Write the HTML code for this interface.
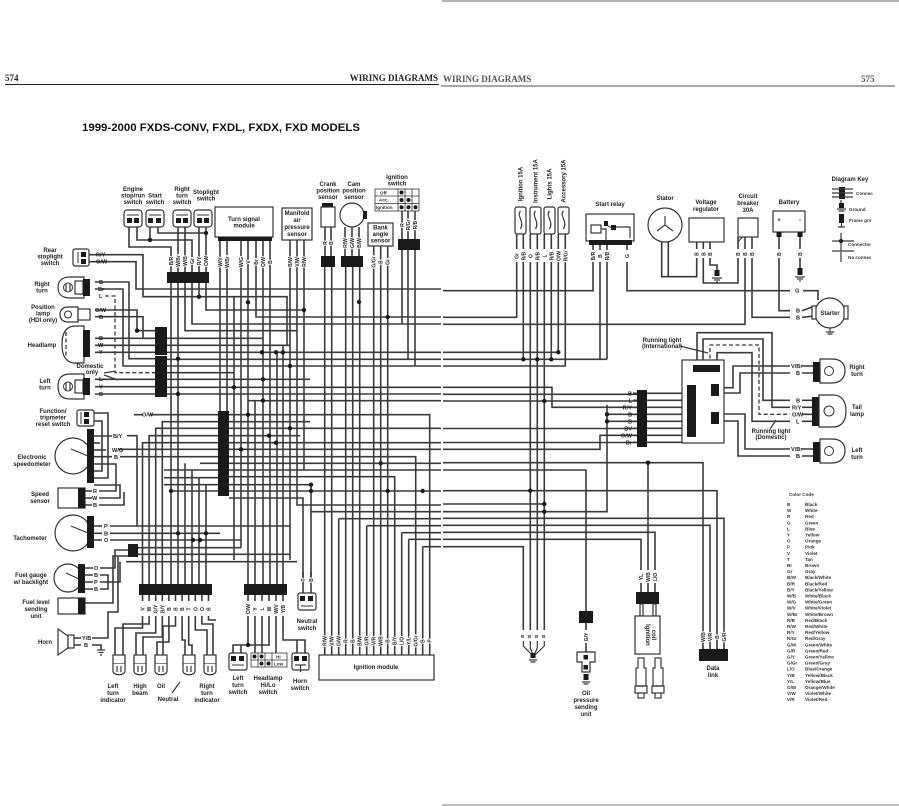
<!DOCTYPE html>
<html><head><meta charset="utf-8">
<style>
html,body{margin:0;padding:0;background:#fff;}
svg{display:block}
.w{fill:none;stroke:#3a3a3a;stroke-width:1.6}
.g{fill:none;stroke:#3a3a3a;stroke-width:1.2}
.d{fill:none;stroke:#3a3a3a;stroke-width:1.3;stroke-dasharray:4 2.5}
.t{font-family:"Liberation Sans",sans-serif;font-weight:bold;font-size:5.6px;fill:#222}
.c{font-family:"Liberation Sans",sans-serif;font-weight:bold;font-size:6px;fill:#222;text-anchor:middle}
.s{font-family:"Liberation Sans",sans-serif;font-weight:bold;font-size:4.6px;fill:#333}
.r{font-family:"Liberation Sans",sans-serif;font-weight:bold;font-size:5px;fill:#222;text-anchor:middle;paint-order:stroke;stroke:#fff;stroke-width:2.2px}
.b{fill:#1a1a1a}
.o{fill:#fff;stroke:#333;stroke-width:1.2}
</style></head><body>
<svg width="899" height="806" viewBox="0 0 899 806" xmlns="http://www.w3.org/2000/svg">
<rect width="899" height="806" fill="#fff"/>
<!-- page frame -->
<line x1="442" y1="1" x2="899" y2="1" stroke="#999" stroke-width="1.5"/>
<line x1="442" y1="805" x2="899" y2="805" stroke="#aaa" stroke-width="1.5"/>
<text x="5" y="81" font-family="Liberation Serif" font-weight="bold" font-size="9" fill="#222">574</text>
<text x="438" y="81" text-anchor="end" font-family="Liberation Serif" font-weight="bold" font-size="9" fill="#222">WIRING DIAGRAMS</text>
<line x1="5" y1="84.5" x2="439" y2="84.5" stroke="#222" stroke-width="1"/>
<text x="443" y="82" font-family="Liberation Serif" font-weight="bold" font-size="9" fill="#555">WIRING DIAGRAMS</text>
<text x="861" y="82" font-family="Liberation Serif" font-weight="bold" font-size="9" fill="#555">575</text>
<line x1="441" y1="86" x2="895" y2="86" stroke="#888" stroke-width="1.5"/>
<text x="82" y="131" font-family="Liberation Sans" font-weight="bold" font-size="11" fill="#111" textLength="278" lengthAdjust="spacingAndGlyphs">1999-2000 FXDS-CONV, FXDL, FXDX, FXD MODELS</text>

<!-- ================= LEFT PAGE WIRES ================= -->
<g class="w">
<path d="M129,227V247H171V272"/>
<path d="M137,227V240H192V272"/>
<path d="M150,227V240"/>
<path d="M158,227V233H206"/>
<path d="M178,227V272"/><path d="M185,227V272"/><path d="M199,227V272"/><path d="M206,227V272"/>
<path d="M171,283V584"/><path d="M178,283V584"/>
<path d="M185,283V330.7H297"/>
<path d="M192,283V324H441"/>
<path d="M199,283V296.7"/>
<path d="M206,283V310H304"/>
<!-- TSM -->
<path d="M220,241V496"/><path d="M227,241V496"/>
<path d="M241,241V547.7"/><path d="M248,241V584"/>
<path d="M256,241V317H441"/>
<path d="M263,241V584"/><path d="M270,241V584"/>
<path d="M277,352.3V584"/><path d="M283,345.3V584"/>
<path d="M255,400.7V584"/>
<path d="M234,296.7V560"/>
<!-- MAP -->
<path d="M290,240V560"/>
<path d="M297,240V505H441"/>
<path d="M304,240V470"/>
<!-- crank cam bank ign -->
<path d="M325,227V256"/><path d="M331,227V256"/>
<path d="M324.7,267V655"/><path d="M331.7,267V655"/>
<path d="M345,227V256"/><path d="M352,227V256"/><path d="M359,227V256"/>
<path d="M345.7,267V655"/><path d="M352.7,267V655"/><path d="M359.7,267V655"/>
<path d="M373.7,246V655"/><path d="M380.7,246V655"/><path d="M387.7,246V655"/>
<path d="M402,211V239"/><path d="M408,211V239"/><path d="M415,211V239"/>
<path d="M402,250V324"/><path d="M408,250V359.3"/><path d="M415,250V366"/>
<!-- gutter lines -->
<path d="M95,261.7H136V289H441"/>
<path d="M95,254.7H143V296.7H287V345.3"/>
<path d="M167,352.3H441"/>
<path d="M167,359.3H441"/>
<path d="M167,366H441"/>
<path d="M167,387.3H441"/>
<path d="M167,394H441"/>
<path d="M248,400.7H441"/>
<path d="M229,428.3H441"/>
<path d="M229,442.7H441"/>
<path d="M229,449.3H441"/>
<path d="M200,463.3H441"/>
<path d="M229,470H441"/>
<path d="M171,491H441"/>
<path d="M311,593V484.7H229"/>
<path d="M311,511.7H441"/>
<path d="M303,593V498H229"/>
<path d="M338.7,518.7V655"/><path d="M338.7,518.7H441"/>
<path d="M366.7,525.7V655"/><path d="M366.7,525.7H441"/>
<path d="M401.7,532.7V655"/><path d="M401.7,532.7H441"/>
<path d="M408.7,539.3V655"/><path d="M408.7,539.3H441"/>
<path d="M422.7,546.7V655"/><path d="M422.7,546.7H441"/>
<path d="M229,476.7H394.7V655"/>
<path d="M229,456.7H415.7V655"/>
<path d="M229,414.7H429.7V655"/>
<path d="M229,421.7H310"/>
<path d="M229,435.7H300"/>
<!-- lamps to bars -->
<path d="M95,282H129V358.7H155"/>
<path d="M95,289H123V366H155"/>
<path d="M95,310H137V330.7H155"/>
<path d="M95,316.7H143V338.3H155"/>
<path d="M95,338.3H155"/><path d="M95,345.3H155"/><path d="M95,352.3H155"/>
<path d="M95,386.7H155"/><path d="M95,394H155"/><path d="M95,379.3H155"/>
<path d="M167,338.3H263"/>
<path d="M167,345.3H290"/>
<path d="M167,379.3H310"/>
<path d="M167,372.7H234"/>
<!-- instrument side -->
<path d="M150,414.7H218"/>
<path d="M218,421.7H162.3V584"/>
<path d="M218,428.3H155.7V584"/>
<path d="M218,435.7H149.1V584"/>
<path d="M218,442.7H142.5V584"/>
<path d="M118,449.3H218"/>
<path d="M120,456.7H218"/>
<path d="M185,463.3V584"/><path d="M192,470V584"/><path d="M199,477.7V584"/><path d="M206,484.7V584"/>
<path d="M164,470H218"/><path d="M164,477.7H218"/><path d="M164,484.7H218"/>
<path d="M94,413H108V478H94"/>
<path d="M94,421H102V471H94"/>
<path d="M94,436H112"/><path d="M127,435.7H137V526"/>
<path d="M94,450H106"/><path d="M94,456.7H112"/>
<path d="M94,443H100"/>
<path d="M99,491H116V464H94"/>
<path d="M99,498H120V485H94"/>
<path d="M99,505H124V492"/>
<path d="M110,526H290"/>
<path d="M110,533.3H220"/>
<path d="M110,540H241"/>
<path d="M138,547.7H241"/>
<path d="M138,554.3H290"/>
<path d="M126,561.7H297"/>
<path d="M100,568H115V550H128"/>
<path d="M100,575H108V589H100"/>
<path d="M100,582H120V561.7"/>
<path d="M85,603H113V556H128"/>
<path d="M92,638H108V612H118V557"/>
<path d="M92,645H101V650"/>
<!-- below bar1 -->
<path d="M142.5,616V628H115V655"/>
<path d="M149.1,616V624H123V655"/>
<path d="M155.7,616V633H136V655"/>
<path d="M162.3,616V637H143V655"/>
<path d="M168.9,616V642H157V655"/>
<path d="M175.5,616V626H163V655"/>
<path d="M182.1,616V640H185V655"/>
<path d="M188.7,616V645H192V655"/>
<path d="M195.3,616V630H207V655"/>
<path d="M201.9,616V624H213V655"/>
<path d="M208.5,616V620H216"/>
<path d="M142.5,595V601"/><path d="M149.1,595V601"/><path d="M155.7,595V601"/><path d="M162.3,595V601"/><path d="M168.9,595V601"/><path d="M175.5,595V601"/><path d="M182.1,595V601"/><path d="M188.7,595V601"/><path d="M195.3,595V601"/><path d="M201.9,595V601"/><path d="M208.5,595V601"/>
<!-- below bar2 -->
<path d="M248,595V601"/><path d="M255,595V601"/><path d="M262,595V601"/><path d="M269,595V601"/><path d="M276,595V601"/><path d="M283,595V601"/>
<path d="M248,616V645H233V653"/><path d="M241,645V653"/><path d="M248,645H270"/>
<path d="M255,616V653"/><path d="M262,616V653"/><path d="M269,616V645"/><path d="M276,616V653"/>
<path d="M283,616V640H305V653"/><path d="M297,640V653"/>
<path d="M303,572V583"/><path d="M311,572V583"/>
</g>
<path class="d" d="M105,296H115V372.7H155"/>
<path class="g" d="M104,373L116,371M104,375L118,380"/>

<!-- dots left -->
<g fill="#1a1a1a">
<circle cx="150" cy="240" r="2.2"/><circle cx="206" cy="233" r="2.2"/>
<circle cx="199" cy="296.7" r="2.2"/><circle cx="248" cy="302.3" r="2.2"/>
<circle cx="304" cy="310" r="2.2"/><circle cx="359" cy="302" r="2.2"/>
<circle cx="387.7" cy="317" r="2.2"/><circle cx="137" cy="330.7" r="2.2"/>
<circle cx="262" cy="352.3" r="2.2"/><circle cx="276" cy="352.3" r="2.2"/><circle cx="283" cy="352.3" r="2.2"/>
<circle cx="178" cy="358.7" r="2.2"/><circle cx="290" cy="366" r="2.2"/>
<circle cx="263" cy="379.3" r="2.2"/><circle cx="234" cy="387.3" r="2.2"/>
<circle cx="178" cy="394" r="2.2"/><circle cx="263" cy="400.7" r="2.2"/>
<circle cx="248" cy="414.7" r="2.2"/><circle cx="290" cy="428.3" r="2.2"/>
<circle cx="269" cy="435.7" r="2.2"/><circle cx="276" cy="442.7" r="2.2"/>
<circle cx="241" cy="449.3" r="2.2"/><circle cx="380.7" cy="463.3" r="2.2"/>
<circle cx="171" cy="491" r="2.2"/><circle cx="311" cy="491" r="2.2"/><circle cx="311" cy="484.7" r="2.2"/>
<circle cx="387.7" cy="491" r="2.2"/><circle cx="422.7" cy="491" r="2.2"/>
<circle cx="178" cy="533.3" r="2.2"/><circle cx="206" cy="533.3" r="2.2"/>
<circle cx="193" cy="540" r="2.2"/><circle cx="200" cy="540" r="2.2"/>
<circle cx="248" cy="645" r="2.2"/>
</g>

<!-- ================= LEFT PAGE COMPONENTS ================= -->
<g>
<rect class="o" x="124" y="210" width="18" height="17" rx="3"/><line x1="127" y1="215" x2="139" y2="215" stroke="#333"/><rect class="b" x="127" y="218" width="5" height="5"/><rect class="b" x="134" y="218" width="5" height="5"/>
<rect class="o" x="146" y="210" width="18" height="17" rx="3"/><line x1="149" y1="215" x2="161" y2="215" stroke="#333"/><rect class="b" x="148" y="218" width="5" height="5"/><rect class="b" x="156" y="218" width="5" height="5"/>
<rect class="o" x="173" y="210" width="18" height="17" rx="3"/><line x1="176" y1="215" x2="188" y2="215" stroke="#333"/><rect class="b" x="176" y="218" width="5" height="5"/><rect class="b" x="183" y="218" width="5" height="5"/>
<rect class="o" x="194" y="210" width="18" height="17" rx="3"/><line x1="197" y1="215" x2="209" y2="215" stroke="#333"/><rect class="b" x="197" y="218" width="5" height="5"/><rect class="b" x="204" y="218" width="5" height="5"/>
</g>
<text class="c" x="133" y="191">Engine</text><text class="c" x="133" y="197.5">stop/run</text><text class="c" x="133" y="204">switch</text>
<text class="c" x="155" y="197.5">Start</text><text class="c" x="155" y="204">switch</text>
<text class="c" x="182" y="191">Right</text><text class="c" x="182" y="197.5">turn</text><text class="c" x="182" y="204">switch</text>
<text class="c" x="206" y="194">Stoplight</text><text class="c" x="206" y="200.5">switch</text>
<rect class="o" x="215" y="207" width="58" height="30"/>
<text class="c" x="244" y="221">Turn signal</text><text class="c" x="244" y="227.5">module</text>
<rect class="b" x="218" y="237" width="54" height="4"/>
<rect class="o" x="282" y="208" width="30" height="32"/>
<text class="c" x="297" y="215">Manifold</text><text class="c" x="297" y="222">air</text><text class="c" x="297" y="229">pressure</text><text class="c" x="297" y="236">sensor</text>
<text class="c" x="328" y="186">Crank</text><text class="c" x="328" y="192.5">position</text><text class="c" x="328" y="199">sensor</text>
<rect class="b" x="322" y="203" width="11" height="4"/><rect class="o" x="321" y="207" width="14" height="20"/>
<rect class="b" x="321" y="256" width="14" height="11"/>
<text class="c" x="354" y="186">Cam</text><text class="c" x="354" y="192.5">position</text><text class="c" x="354" y="199">sensor</text>
<circle class="o" cx="352" cy="215" r="12"/><rect class="b" x="363" y="211" width="4" height="8"/>
<rect class="b" x="341" y="256" width="22" height="11"/>
<rect class="o" x="368" y="223" width="25" height="23"/>
<text class="c" x="380.5" y="229.5">Bank</text><text class="c" x="380.5" y="236">angle</text><text class="c" x="380.5" y="242.5">sensor</text>
<text class="c" x="397" y="179">Ignition</text><text class="c" x="397" y="185.5">switch</text>
<g fill="none" stroke="#333" stroke-width="0.8">
<rect x="375" y="189" width="44" height="22"/>
<line x1="375" y1="196" x2="419" y2="196"/><line x1="375" y1="203.5" x2="419" y2="203.5"/>
<line x1="398" y1="189" x2="398" y2="211"/><line x1="405" y1="189" x2="405" y2="211"/><line x1="412" y1="189" x2="412" y2="211"/>
</g>
<text class="s" x="380" y="194.5">Off</text><text class="s" x="379" y="201.5">Acc.</text><text class="s" x="376" y="209">Ignition</text>
<g fill="#1a1a1a"><circle cx="401.5" cy="192.5" r="2"/><circle cx="401.5" cy="200" r="2"/><circle cx="408.5" cy="200" r="2"/><circle cx="401.5" cy="207.3" r="2"/><circle cx="408.5" cy="207.3" r="2"/><circle cx="415.5" cy="207.3" r="2"/></g>
<rect class="b" x="398" y="239" width="22" height="11"/>
<rect class="b" x="167" y="272" width="42" height="11"/>
<rect class="b" x="155" y="327" width="12" height="28"/>
<rect class="b" x="155" y="356" width="12" height="41"/>
<rect class="b" x="218" y="411" width="11" height="85"/>
<rect class="b" x="128" y="544" width="10" height="13"/>
<rect class="b" x="139" y="584" width="73" height="11"/>
<rect class="b" x="244" y="584" width="43" height="11"/>

<rect class="o" x="73" y="249" width="16" height="17" rx="2"/>
<line x1="78" y1="252" x2="78" y2="263" stroke="#333"/>
<rect class="b" x="81" y="252" width="5" height="5"/><rect class="b" x="81" y="259" width="5" height="5"/>
<path class="w" d="M89,254.7H95M89,261.7H95"/>
<text class="c" x="50" y="252">Rear</text><text class="c" x="50" y="258.5">stoplight</text><text class="c" x="50" y="265">switch</text>
<text class="t" x="96" y="256.7">R/Y</text><text class="t" x="96" y="263.7">O/W</text>
<path class="o" d="M84,277H70C61,277 58,282 58,287.5C58,293 61,298 70,298H84Z"/>
<circle fill="none" stroke="#333" cx="68" cy="287.5" r="4.5"/><path class="g" d="M66,283V292M70,283V292"/>
<rect class="o" x="75" y="281" width="8" height="13"/><rect class="b" x="83" y="279" width="7" height="17"/>
<text class="c" x="42" y="286">Right</text><text class="c" x="42" y="292.5">turn</text>
<text class="t" x="99" y="284">B</text><text class="t" x="98" y="291">Br</text><text class="t" x="99" y="298">L</text>
<path class="o" d="M78,307H68C62,307 60,311 60,314.5C60,318 62,322 68,322H78Z"/>
<circle fill="none" stroke="#333" cx="68" cy="314.5" r="3.5"/>
<rect class="o" x="78" y="309" width="12" height="11"/>
<text class="c" x="43" y="309">Position</text><text class="c" x="43" y="315.5">lamp</text><text class="c" x="43" y="322">(HDI only)</text>
<text class="t" x="95" y="312">O/W</text><text class="t" x="99" y="319">B</text>
<path class="o" d="M84,326H74C64,327 62,336 62,344.5C62,353 64,362 74,363H84Z"/>
<path class="d" d="M66,332V358" stroke-width="0.8"/>
<rect class="b" x="83" y="330" width="7" height="27"/>
<text class="c" x="42" y="347">Headlamp</text>
<text class="t" x="99" y="340">B</text><text class="t" x="98" y="347">W</text><text class="t" x="99" y="354">Y</text>
<text class="c" x="90" y="368" font-size="5">Domestic</text><text class="c" x="92" y="374" font-size="5">only</text>
<path class="o" d="M84,374H70C61,374 58,379 58,386.5C58,394 61,399 70,399H84Z"/>
<circle fill="none" stroke="#333" cx="68" cy="386.5" r="4.5"/><path class="g" d="M66,382V391M70,382V391"/>
<rect class="o" x="75" y="380" width="8" height="13"/><rect class="b" x="83" y="378" width="7" height="17"/>
<text class="c" x="45" y="383">Left</text><text class="c" x="45" y="389.5">turn</text>
<text class="t" x="99" y="381">L</text><text class="t" x="99" y="388.5">V</text><text class="t" x="99" y="396">B</text>

<rect class="o" x="77" y="410" width="17" height="16" rx="2"/>
<line x1="81" y1="412" x2="81" y2="424" stroke="#333"/>
<rect class="b" x="84" y="412" width="5" height="5"/><rect class="b" x="84" y="419" width="5" height="5"/>
<text class="c" x="53" y="413">Function/</text><text class="c" x="53" y="419.5">tripmeter</text><text class="c" x="53" y="426">reset switch</text>
<path class="w" d="M134,414.7H143"/><text class="t" x="142" y="416.7">O/W</text>
<circle class="o" cx="73" cy="456" r="18"/><line x1="71" y1="449" x2="88" y2="456" stroke="#333" stroke-width="1"/>
<rect class="b" x="87" y="429" width="7" height="54"/>
<text class="c" x="32" y="459">Electronic</text><text class="c" x="32" y="466">speedometer</text>
<text class="t" x="113" y="438">B/Y</text><text class="t" x="112" y="452">W/G</text><text class="t" x="114" y="459">B</text>
<rect class="o" x="58" y="488" width="27" height="20"/><rect class="b" x="78" y="488" width="7" height="20"/>
<path class="w" d="M85,491H92M85,498H92M85,505H92"/>
<text class="c" x="40" y="496">Speed</text><text class="c" x="40" y="503">sensor</text>
<text class="t" x="93" y="493">R</text><text class="t" x="92" y="500">W</text><text class="t" x="93" y="507">B</text>
<circle class="o" cx="73" cy="533" r="18"/><line x1="71" y1="526" x2="88" y2="533" stroke="#333" stroke-width="1"/>
<rect class="b" x="87" y="516" width="7" height="32"/>
<path class="w" d="M94,526H102M94,533.3H102M94,540H102"/>
<text class="c" x="30" y="540">Tachometer</text>
<text class="t" x="104" y="528">P</text><text class="t" x="104" y="535.3">B</text><text class="t" x="104" y="542">O</text>
<circle class="o" cx="68" cy="578" r="14"/><line x1="66" y1="573" x2="79" y2="579" stroke="#333" stroke-width="1"/>
<rect class="b" x="78" y="564" width="7" height="29"/>
<path class="w" d="M85,568H93M85,575H93M85,582H93M85,589H93"/>
<text class="c" x="31" y="577">Fuel gauge</text><text class="c" x="31" y="584">w/ backlight</text>
<text class="t" x="94" y="570">O</text><text class="t" x="94" y="577">B</text><text class="t" x="94" y="584">P</text><text class="t" x="94" y="591">B</text>
<rect class="o" x="58" y="598" width="27" height="16"/><rect class="b" x="78" y="598" width="7" height="16"/>
<text class="c" x="36" y="604">Fuel level</text><text class="c" x="36" y="611">sending</text><text class="c" x="36" y="618">unit</text>
<path class="o" d="M58,629L68,636V648L58,655Z"/><rect class="o" x="68" y="635" width="6" height="13"/>
<path class="w" d="M74,638H81M74,645H81"/>
<text class="c" x="45" y="644">Horn</text>
<text class="t" x="82" y="640">Y/B</text><text class="t" x="84" y="647">B</text>
<path class="g" d="M97,650H105M98.5,652.5H103.5M100,655H102"/>

<g>
<rect class="o" x="113" y="655" width="12" height="9"/><path class="o" d="M113,664V671C113,676 125,676 125,671V664"/><path class="g" d="M117,666V672M121,666V672"/>
<rect class="o" x="134" y="655" width="12" height="9"/><path class="o" d="M134,664V671C134,676 146,676 146,671V664"/><path class="g" d="M138,666V672M142,666V672"/>
<rect class="o" x="155" y="655" width="12" height="9"/><path class="o" d="M155,664V671C155,676 167,676 167,671V664"/><path class="g" d="M159,666V672M163,666V672"/>
<rect class="o" x="183" y="655" width="12" height="9"/><path class="o" d="M183,664V671C183,676 195,676 195,671V664"/><path class="g" d="M187,666V672M191,666V672"/>
<rect class="o" x="204" y="655" width="12" height="9"/><path class="o" d="M204,664V671C204,676 216,676 216,671V664"/><path class="g" d="M208,666V672M212,666V672"/>
</g>
<text class="c" x="113" y="688">Left</text><text class="c" x="113" y="695">turn</text><text class="c" x="113" y="702">indicator</text>
<text class="c" x="140" y="688">High</text><text class="c" x="140" y="695">beam</text>
<text class="c" x="161" y="688">Oil</text>
<path class="g" d="M172,693L180,682"/>
<text class="c" x="168" y="701">Neutral</text>
<text class="c" x="207" y="688">Right</text><text class="c" x="207" y="695">turn</text><text class="c" x="207" y="702">indicator</text>
<rect class="o" x="229" y="653" width="18" height="17" rx="2"/><rect class="b" x="231" y="656" width="5" height="5"/><rect class="b" x="239" y="656" width="5" height="5"/><line x1="232" y1="665" x2="244" y2="665" stroke="#333"/>
<text class="c" x="238" y="680">Left</text><text class="c" x="238" y="687">turn</text><text class="c" x="238" y="694">switch</text>
<g fill="none" stroke="#333" stroke-width="0.8">
<rect x="251" y="653" width="36" height="14"/><line x1="251" y1="660" x2="287" y2="660"/>
<line x1="258" y1="653" x2="258" y2="667"/><line x1="265" y1="653" x2="265" y2="667"/><line x1="272" y1="653" x2="272" y2="667"/>
</g>
<g fill="#1a1a1a"><circle cx="254.5" cy="656.5" r="2"/><circle cx="261.5" cy="656.5" r="2"/><circle cx="261.5" cy="663.5" r="2"/><circle cx="268.5" cy="663.5" r="2"/></g>
<text class="s" x="276" y="658.7">Hi</text><text class="s" x="274" y="665.7">Low</text>
<text class="c" x="268" y="680">Headlamp</text><text class="c" x="268" y="687">Hi/Lo</text><text class="c" x="268" y="694">switch</text>
<rect class="o" x="292" y="653" width="17" height="17" rx="2"/><rect class="b" x="294" y="656" width="5" height="5"/><rect class="b" x="302" y="656" width="5" height="5"/><path class="g" d="M295,665H306M300.5,665V672"/>
<text class="c" x="300" y="683">Horn</text><text class="c" x="300" y="690">switch</text>
<rect class="o" x="298" y="593" width="18" height="17" rx="2"/><rect class="b" x="300" y="596" width="5" height="5"/><rect class="b" x="308" y="596" width="5" height="5"/><line x1="301" y1="606" x2="313" y2="606" stroke="#333"/>
<text class="c" x="307" y="623">Neutral</text><text class="c" x="307" y="630">switch</text>
<rect class="o" x="319" y="655" width="115" height="25"/>
<text class="c" x="376" y="669">Ignition module</text>

<g class="r">
<text transform="translate(173,261) rotate(-90)">B/R</text><text transform="translate(180,261) rotate(-90)">W/Br</text><text transform="translate(187,261) rotate(-90)">W/B</text><text transform="translate(194,261) rotate(-90)">Gr</text><text transform="translate(201,261) rotate(-90)">R/Y</text><text transform="translate(208,261) rotate(-90)">O/W</text>
<text transform="translate(222,262) rotate(-90)">W/V</text><text transform="translate(229,262) rotate(-90)">W/Br</text><text transform="translate(243,262) rotate(-90)">W/G</text><text transform="translate(250,262) rotate(-90)">V</text><text transform="translate(258,262) rotate(-90)">Br</text><text transform="translate(265,262) rotate(-90)">O/W</text><text transform="translate(272,262) rotate(-90)">B</text>
<text transform="translate(292,262) rotate(-90)">B/W</text><text transform="translate(299,262) rotate(-90)">V/W</text><text transform="translate(306,262) rotate(-90)">R/W</text>
<text transform="translate(327,243) rotate(-90)">R</text><text transform="translate(333,243) rotate(-90)">B</text>
<text transform="translate(347,243) rotate(-90)">R/W</text><text transform="translate(354,243) rotate(-90)">G/W</text><text transform="translate(361,243) rotate(-90)">B/W</text>
<text transform="translate(375.7,262) rotate(-90)">G/Gr</text><text transform="translate(382.7,262) rotate(-90)">B</text><text transform="translate(389.7,262) rotate(-90)">Gr</text>
<text transform="translate(404,225) rotate(-90)">R</text><text transform="translate(410,225) rotate(-90)">R/Gr</text><text transform="translate(417,225) rotate(-90)">R/B</text>
<text transform="translate(144.5,609) rotate(-90)">V</text><text transform="translate(151.1,609) rotate(-90)">W</text><text transform="translate(157.7,609) rotate(-90)">G/Y</text><text transform="translate(164.3,609) rotate(-90)">B/Y</text><text transform="translate(170.9,609) rotate(-90)">B</text><text transform="translate(177.5,609) rotate(-90)">B</text><text transform="translate(184.1,609) rotate(-90)">B</text><text transform="translate(190.7,609) rotate(-90)">T</text><text transform="translate(197.3,609) rotate(-90)">O</text><text transform="translate(203.9,609) rotate(-90)">O</text><text transform="translate(210.5,609) rotate(-90)">B</text>
<text transform="translate(250,609) rotate(-90)">O/W</text><text transform="translate(257,609) rotate(-90)">Y</text><text transform="translate(264,609) rotate(-90)">L</text><text transform="translate(271,609) rotate(-90)">W</text><text transform="translate(278,609) rotate(-90)">W/V</text><text transform="translate(285,609) rotate(-90)">Y/B</text>
<text transform="translate(305,580) rotate(-90)">T</text><text transform="translate(313,580) rotate(-90)">B</text>
<text transform="translate(326.7,641) rotate(-90)">R/W</text><text transform="translate(333.7,641) rotate(-90)">V/W</text><text transform="translate(340.7,641) rotate(-90)">G/W</text><text transform="translate(347.7,641) rotate(-90)">R</text><text transform="translate(354.7,641) rotate(-90)">B</text><text transform="translate(361.7,641) rotate(-90)">B/W</text><text transform="translate(368.7,641) rotate(-90)">G/R</text><text transform="translate(375.7,641) rotate(-90)">V/R</text><text transform="translate(382.7,641) rotate(-90)">W/B</text><text transform="translate(389.7,641) rotate(-90)">B</text><text transform="translate(396.7,641) rotate(-90)">B/Y</text><text transform="translate(403.7,641) rotate(-90)">L/O</text><text transform="translate(410.7,641) rotate(-90)">Y/L</text><text transform="translate(417.7,641) rotate(-90)">G/Gr</text><text transform="translate(424.7,641) rotate(-90)">B</text><text transform="translate(431.7,641) rotate(-90)">P</text>
</g>

<!-- ================= RIGHT PAGE ================= -->
<g class="w">
<path d="M443,290.7H593V262"/><path d="M593,245V250"/>
<path d="M600,245V250"/><path d="M600,262V359.3"/>
<path d="M607,245V250"/><path d="M607,262V359.3"/>
<path d="M627,241V250"/><path d="M627,262V290.7H790"/>
<path d="M443,317.3H516.7V262"/>
<path d="M443,324.3H745V258"/>
<path d="M443,352.3H558.3V262"/>
<path d="M443,359.3H607"/>
<path d="M443,366H565.3V262"/>
<path d="M523.3,262V359.3"/><path d="M551.3,262V359.3"/>
<path d="M530.3,262V630"/><path d="M537.3,262V630"/><path d="M544.3,262V630"/>
<path d="M443,546.7H523.3V630"/>
<path d="M516.7,234V249"/><path d="M523.3,234V249"/><path d="M530.3,234V249"/><path d="M537.3,234V249"/><path d="M544.3,234V249"/><path d="M551.3,234V249"/><path d="M558.3,234V249"/><path d="M565.3,234V249"/>
<path d="M443,387.3H552V407.3H637"/>
<path d="M443,394.3H637"/>
<path d="M443,401H637"/>
<path d="M443,428.5H637"/>
<path d="M443,442.5H637"/>
<path d="M607,405V511.7H443"/><path d="M607,414.3H637"/><path d="M607,421.3H637"/>
<path d="M443,449.3H600V435.3H637"/>
<path d="M443,462.7H703V649"/><path d="M648,462.7V570"/>
<path d="M443,470H586V611"/>
<path d="M443,490.7H717V649"/>
<path d="M443,504H544.3"/>
<path d="M443,518.3H724V649"/>
<path d="M443,525.3H710V649"/>
<path d="M443,532.3H655V570"/>
<path d="M443,539.3H641V570"/>
<path d="M647,393.3H687M647,400.3H687M647,407.3H687M647,414.3H687M647,421.3H687M647,428.3H687M647,435.3H687M647,442.3H682"/>
<path d="M633,393.3H637M633,400.3H637M633,407.3H637M633,414.3H637M633,421.3H637M633,428.3H637M633,435.3H637M633,442.3H637"/>
<path d="M697,365V332.7H772V407.3H790"/>
<path d="M703,365V339H763V400.3H790"/>
<path d="M717,365V352.7H752V421.3H790"/>
<path d="M719,387.7H733V366H790"/>
<path d="M719,393H740V373H790"/>
<path d="M719,414H745V449H790"/>
<path d="M719,421H738V456H790"/>
<path d="M802,366H814M802,373H814M802,400.3H812M802,407.3H812M802,414.3H812M802,421.3H812M802,449H814M802,456H814"/>
<path d="M661.7,242V276.7H696.7V258"/><path d="M668.3,242V276.7"/>
<path d="M696.7,242V249"/><path d="M703.3,242V249"/><path d="M710,242V249"/>
<path d="M703.3,258V283H738V258"/>
<path d="M710,258V265H717V270"/>
<path d="M738,237V249"/><path d="M745,237V249"/><path d="M752,237V249"/>
<path d="M752,258V317.3H790"/>
<path d="M779,237V249"/><path d="M779,258V310.7H790"/>
<path d="M800,237V249"/><path d="M800,258V268"/>
<path d="M802,310.7L815,306M802,317.3L815,316M803,290.7H818V300"/>
</g>
<path class="d" d="M710,365V345H759V414.3H790"/>
<path class="g" d="M738,242L744,235"/>
<path class="g" d="M680,346L708,353M770,429L776,420"/>
<g fill="#1a1a1a">
<circle cx="523.3" cy="359.3" r="2.2"/><circle cx="537.3" cy="359.3" r="2.2"/><circle cx="551.3" cy="359.3" r="2.2"/><circle cx="558.3" cy="352.3" r="2.2"/>
<circle cx="544.3" cy="401" r="2.2"/><circle cx="607" cy="414.3" r="2.2"/><circle cx="607" cy="421.3" r="2.2"/>
<circle cx="648" cy="462.7" r="2.2"/><circle cx="530.3" cy="490.7" r="2.2"/><circle cx="544.3" cy="504" r="2.2"/><circle cx="544.3" cy="511.7" r="2.2"/>
</g>
<g>
<rect class="o" x="515" y="207" width="11" height="27" rx="2"/><path class="g" d="M520.5,211C516,216 525,221 520.5,229"/>
<rect class="o" x="530" y="207" width="11" height="27" rx="2"/><path class="g" d="M535.5,211C531,216 540,221 535.5,229"/>
<rect class="o" x="544" y="207" width="11" height="27" rx="2"/><path class="g" d="M549.5,211C545,216 554,221 549.5,229"/>
<rect class="o" x="558" y="207" width="11" height="27" rx="2"/><path class="g" d="M563.5,211C559,216 568,221 563.5,229"/>
</g>
<g class="c" font-size="5.2">
<text transform="translate(522.5,184) rotate(-90)">Ignition 15A</text>
<text transform="translate(537.5,181) rotate(-90)">Instrument 15A</text>
<text transform="translate(551.5,184) rotate(-90)">Lights 15A</text>
<text transform="translate(565.5,181) rotate(-90)">Accessory 15A</text>
</g>
<text class="c" x="610" y="206">Start relay</text>
<rect class="o" x="586" y="214" width="48" height="27"/>
<rect class="o" x="591" y="225" width="10" height="8"/>
<rect class="b" x="604" y="221" width="4" height="5"/><rect class="b" x="611" y="225" width="5" height="5"/>
<path class="g" d="M601,229H606V234M608,226L612,228M616,227H630V238M606,234V240"/>
<rect class="b" x="589" y="240" width="43" height="5"/>
<text class="c" x="665" y="200">Stator</text>
<circle class="o" cx="665" cy="225" r="17"/>
<path class="g" d="M665,225V216M665,225L657,231M665,225L673,231"/>
<text class="c" x="706" y="204">Voltage</text><text class="c" x="706" y="211">regulator</text>
<rect class="o" x="689" y="218" width="35" height="24"/>
<text class="c" x="748" y="198">Circuit</text><text class="c" x="748" y="205">breaker</text><text class="c" x="748" y="212">30A</text>
<rect class="o" x="738" y="218" width="20" height="19"/>
<text class="c" x="789" y="204">Battery</text>
<rect class="o" x="773" y="211" width="32" height="21"/>
<text class="c" x="779" y="222">+</text><text class="c" x="800" y="222">-</text>
<rect class="b" x="776.5" y="232" width="5" height="5"/><rect class="b" x="797.5" y="232" width="5" height="5"/>
<g>
<rect class="b" x="714.5" y="270" width="5" height="6"/><path class="g" d="M712,278H722M714,280H720M716,282H718"/>
<rect class="b" x="797.5" y="268" width="5" height="7"/><path class="g" d="M795,277H805M797,279H803M799,281H801"/>
</g>
<circle class="o" cx="830" cy="313" r="15"/>
<rect class="o" x="812" y="306" width="4" height="13"/><rect class="o" x="844" y="306" width="4" height="13"/>
<text class="c" x="830" y="315">Starter</text>
<path class="g" d="M830,328V332M826,332H834M827.5,334H832.5"/>
<text class="t" x="795" y="292.7">G</text><text class="t" x="796" y="312.7">B</text><text class="t" x="796" y="319.3">B</text>
<text class="c" x="850" y="181">Diagram Key</text>
<rect class="b" x="839" y="187" width="6" height="12"/>
<path class="g" d="M832,189H853M832,193H853M832,197H853"/>
<text class="s" x="856" y="195">Connec</text>
<path class="g" d="M841,200V203"/><rect class="b" x="839" y="203" width="5" height="5"/><path class="g" d="M837,209H846M838.5,211H844.5"/>
<text class="s" x="849" y="211">Ground</text>
<rect class="b" x="839" y="214" width="5" height="9"/><path class="g" d="M841.5,223V227M838,227H845"/>
<text class="s" x="849" y="222">Frame gro</text>
<path class="g" d="M832,241H854M841,233V251M832,251H854M841,252V262"/><circle cx="841" cy="241" r="2" fill="#1a1a1a"/>
<text class="s" x="848" y="246">Connector</text><text class="s" x="848" y="259">No connec</text>
<text class="c" x="662" y="342" font-size="5">Running light</text><text class="c" x="662" y="348" font-size="5">(International)</text>
<rect class="o" x="682" y="360" width="42" height="83"/>
<rect class="b" x="693" y="365" width="27" height="7"/>
<rect class="b" x="711" y="384" width="8" height="12"/><rect class="b" x="711" y="412" width="8" height="12"/>
<rect class="b" x="687" y="385" width="9" height="52"/>
<rect class="b" x="637" y="390" width="10" height="57"/>
<g class="t" text-anchor="end">
<text x="632" y="395.3">B</text><text x="632" y="402.3">L</text><text x="632" y="409.3">R/Y</text><text x="632" y="416.3">B</text><text x="632" y="423.3">B</text><text x="632" y="430.3">BV</text><text x="632" y="437.3">O/W</text><text x="632" y="444.3">Br</text>
</g>
<text class="c" x="771" y="433" font-size="5">Running light</text><text class="c" x="771" y="439" font-size="5">(Domestic)</text>
<g class="t">
<text x="791" y="368">V/Br</text><text x="796" y="375">B</text>
<text x="796" y="402.3">B</text><text x="792" y="409.3">R/Y</text><text x="792" y="416.3">O/W</text><text x="796" y="423.3">L</text>
<text x="791" y="451">V/Br</text><text x="796" y="458">B</text>
</g>
<rect class="b" x="813" y="362" width="7" height="20"/><path class="o" d="M820,359H832C842,359 845,365 845,370.5C845,376 842,383 832,383H820Z"/><circle fill="none" stroke="#333" cx="829" cy="371" r="4.5"/>
<text class="c" x="857" y="369">Right</text><text class="c" x="857" y="376">turn</text>
<rect class="b" x="812" y="397" width="7" height="29"/><path class="o" d="M819,395H833C843,395 846,403 846,411C846,419 843,427 833,427H819Z"/><circle fill="none" stroke="#333" cx="829" cy="411" r="5"/>
<text class="c" x="857" y="409">Tail</text><text class="c" x="857" y="416">lamp</text>
<rect class="b" x="813" y="442" width="7" height="20"/><path class="o" d="M820,439H832C842,439 845,445 845,450.5C845,456 842,463 832,463H820Z"/><circle fill="none" stroke="#333" cx="829" cy="451" r="4.5"/>
<text class="c" x="857" y="452">Left</text><text class="c" x="857" y="459">turn</text>
<text class="s" x="521" y="638">B</text><text class="s" x="528" y="638">B</text><text class="s" x="535" y="638">B</text><text class="s" x="542" y="638">B</text>
<path class="g" d="M523.3,641V646L532,655M530.3,641V648L533,655M537.3,641V648L534,655M544.3,641V646L535,655"/>
<rect class="b" x="530.5" y="653" width="5" height="5"/><path class="g" d="M529,660H537M530.5,662H535.5"/>
<rect class="b" x="579" y="611" width="14" height="12"/>
<path class="w" d="M586,623V630M586,643V652"/>
<path class="o" d="M577,652H595V662H590V672H582V662H577Z"/>
<rect class="b" x="583.5" y="655" width="4.5" height="4.5"/><rect class="b" x="583.5" y="665" width="4.5" height="4.5"/>
<rect class="b" x="583.5" y="674" width="5" height="6"/><path class="g" d="M582,682H590M583.5,684H588.5"/>
<text class="c" x="586" y="695">Oil</text><text class="c" x="586" y="702">pressure</text><text class="c" x="586" y="709">sending</text><text class="c" x="586" y="716">unit</text>
<rect class="b" x="636" y="592" width="23" height="12"/>
<path class="w" d="M641,583V592M648,583V592M655,583V592"/>
<rect class="o" x="640" y="604" width="3" height="12"/><rect class="o" x="653" y="604" width="3" height="12"/>
<rect class="o" x="635" y="616" width="25" height="38"/>
<text class="c" transform="translate(646,635) rotate(90)" font-size="5">Ignition</text><text class="c" transform="translate(652,635) rotate(90)" font-size="5">coil</text>
<g class="g">
<path d="M640,658H644V668H646V686H636V668H638V658Z"/><path d="M635,686H647V693H635Z"/><path d="M638,693V698H644V693"/>
<path d="M657,658H661V668H663V686H653V668H655V658Z"/><path d="M652,686H664V693H652Z"/><path d="M655,693V698H661V693"/>
</g>
<rect class="b" x="699" y="649" width="29" height="12"/>
<text class="c" x="713" y="670">Data</text><text class="c" x="713" y="677">link</text>
<g class="r">
<text transform="translate(518.7,256) rotate(-90)">Gr</text><text transform="translate(525.3,256) rotate(-90)">R/B</text><text transform="translate(532.3,256) rotate(-90)">O</text><text transform="translate(539.3,256) rotate(-90)">R/B</text><text transform="translate(546.3,256) rotate(-90)">L</text><text transform="translate(553.3,256) rotate(-90)">R/B</text><text transform="translate(560.3,256) rotate(-90)">O/W</text><text transform="translate(567.3,256) rotate(-90)">R/Gr</text>
<text transform="translate(595,256) rotate(-90)">B/R</text><text transform="translate(602,256) rotate(-90)">B</text><text transform="translate(609,256) rotate(-90)">R/B</text><text transform="translate(629,256) rotate(-90)">G</text>
<text transform="translate(698.7,254) rotate(-90)">B</text><text transform="translate(705.3,254) rotate(-90)">B</text><text transform="translate(712,254) rotate(-90)">B</text>
<text transform="translate(740,254) rotate(-90)">B</text><text transform="translate(747,254) rotate(-90)">B</text><text transform="translate(754,254) rotate(-90)">B</text>
<text transform="translate(781,254) rotate(-90)">B</text><text transform="translate(802,254) rotate(-90)">B</text>
<text transform="translate(588,637) rotate(-90)">G/Y</text>
<text transform="translate(643,577) rotate(-90)">YL</text><text transform="translate(650,577) rotate(-90)">W/B</text><text transform="translate(657,577) rotate(-90)">L/O</text>
<text transform="translate(705,637) rotate(-90)">W/B</text><text transform="translate(712,637) rotate(-90)">V/R</text><text transform="translate(719,637) rotate(-90)">B</text><text transform="translate(726,637) rotate(-90)">G/R</text>
</g>
<text class="s" x="789" y="496" font-size="5.2">Color Code</text>
<g class="s" font-size="4.6">
<text x="787" y="506">B</text><text x="805" y="506">Black</text>
<text x="787" y="512.1">W</text><text x="805" y="512.1">White</text>
<text x="787" y="518.2">R</text><text x="805" y="518.2">Red</text>
<text x="787" y="524.3">G</text><text x="805" y="524.3">Green</text>
<text x="787" y="530.4">L</text><text x="805" y="530.4">Blue</text>
<text x="787" y="536.5">Y</text><text x="805" y="536.5">Yellow</text>
<text x="787" y="542.6">O</text><text x="805" y="542.6">Orange</text>
<text x="787" y="548.7">P</text><text x="805" y="548.7">Pink</text>
<text x="787" y="554.8">V</text><text x="805" y="554.8">Violet</text>
<text x="787" y="560.9">T</text><text x="805" y="560.9">Tan</text>
<text x="787" y="567">Br</text><text x="805" y="567">Brown</text>
<text x="787" y="573.1">Gr</text><text x="805" y="573.1">Gray</text>
<text x="787" y="579.2">B/W</text><text x="805" y="579.2">Black/White</text>
<text x="787" y="585.3">B/R</text><text x="805" y="585.3">Black/Red</text>
<text x="787" y="591.4">B/Y</text><text x="805" y="591.4">Black/Yellow</text>
<text x="787" y="597.5">W/B</text><text x="805" y="597.5">White/Black</text>
<text x="787" y="603.6">W/G</text><text x="805" y="603.6">White/Green</text>
<text x="787" y="609.7">W/V</text><text x="805" y="609.7">White/Violet</text>
<text x="787" y="615.8">W/Br</text><text x="805" y="615.8">White/Brown</text>
<text x="787" y="621.9">R/B</text><text x="805" y="621.9">Red/Black</text>
<text x="787" y="628">R/W</text><text x="805" y="628">Red/White</text>
<text x="787" y="634.1">R/Y</text><text x="805" y="634.1">Red/Yellow</text>
<text x="787" y="640.2">R/Gr</text><text x="805" y="640.2">Red/Gray</text>
<text x="787" y="646.3">G/W</text><text x="805" y="646.3">Green/White</text>
<text x="787" y="652.4">G/R</text><text x="805" y="652.4">Green/Red</text>
<text x="787" y="658.5">G/Y</text><text x="805" y="658.5">Green/Yellow</text>
<text x="787" y="664.6">G/Gr</text><text x="805" y="664.6">Green/Gray</text>
<text x="787" y="670.7">L/O</text><text x="805" y="670.7">Blue/Orange</text>
<text x="787" y="676.8">Y/B</text><text x="805" y="676.8">Yellow/Black</text>
<text x="787" y="682.9">Y/L</text><text x="805" y="682.9">Yellow/Blue</text>
<text x="787" y="689">O/W</text><text x="805" y="689">Orange/White</text>
<text x="787" y="695.1">V/W</text><text x="805" y="695.1">Violet/White</text>
<text x="787" y="701.2">V/R</text><text x="805" y="701.2">Violet/Red</text>
</g>
</svg>
</body></html>
